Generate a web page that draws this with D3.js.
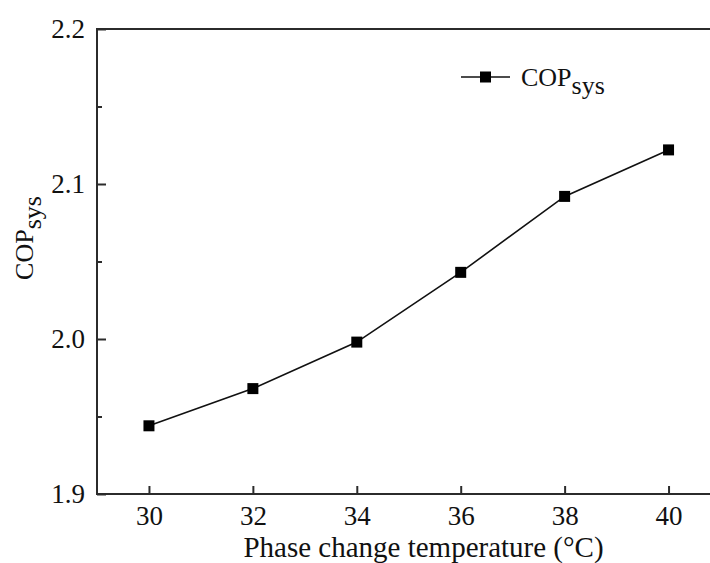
<!DOCTYPE html>
<html>
<head>
<meta charset="utf-8">
<script src="https://cdn.jsdelivr.net/npm/d3@7"></script>
<style>
  html, body { margin: 0; padding: 0; background: #fff; }
  svg { display: block; }
</style>
</head>
<body>
<svg id="chart" width="710" height="563" font-family="Liberation Serif"></svg>
<script>
const temps = [30, 32, 34, 36, 38, 40];
const copSys = [1.944, 1.968, 1.998, 2.043, 2.092, 2.122];
const xTicks = [30, 32, 34, 36, 38, 40];
const yTicks = [1.9, 2.0, 2.1, 2.2];
const yMinorTicks = [1.95, 2.05, 2.15];
const xTitle = "Phase change temperature (°C)";
const seriesName = "COP";
const seriesSub = "sys";

(function () {
const FONT = "Liberation Serif";
const svg = d3.select("#chart");
const mLeft = 97, mRight = 720.5, mTop = 29, mBottom = 494;
const x = d3.scaleLinear().domain([29, 41]).range([mLeft, mRight]);
const y = d3.scaleLinear().domain([1.9, 2.2]).range([mBottom, mTop]);
const axisColor = "#2b2b2b";

// frame (left, bottom, top)
const frame = svg.append("g");
frame.append("line").attr("x1", mLeft).attr("x2", mLeft).attr("y1", mTop).attr("y2", mBottom)
  .attr("stroke", axisColor).attr("stroke-width", 2);
frame.append("line").attr("x1", mLeft - 1).attr("x2", mRight).attr("y1", mBottom).attr("y2", mBottom)
  .attr("stroke", axisColor).attr("stroke-width", 2);
frame.append("line").attr("x1", mLeft - 1).attr("x2", mRight).attr("y1", mTop).attr("y2", mTop)
  .attr("stroke", axisColor).attr("stroke-width", 2);

// x axis (inward ticks)
const xAxis = d3.axisBottom(x).tickValues(xTicks).tickSizeInner(-8).tickSizeOuter(0).tickPadding(12).tickFormat(d3.format("d"));
const gx = svg.append("g").attr("transform", `translate(0,${mBottom})`).call(xAxis)
  .attr("font-family", FONT).attr("font-size", 27);
gx.select(".domain").remove();
gx.selectAll(".tick line").attr("stroke", axisColor).attr("stroke-width", 2);
gx.selectAll(".tick text").style("font-family", FONT).attr("fill", "#111");

// y axis (inward ticks)
const yAxis = d3.axisLeft(y).tickValues(yTicks).tickSizeInner(-9).tickSizeOuter(0).tickPadding(12).tickFormat(d3.format(".1f"));
const gy = svg.append("g").attr("transform", `translate(${mLeft},0)`).call(yAxis)
  .attr("font-family", FONT).attr("font-size", 27);
gy.select(".domain").remove();
gy.selectAll(".tick line").attr("stroke", axisColor).attr("stroke-width", 2);
gy.selectAll(".tick text").style("font-family", FONT).attr("fill", "#111");

const yMinor = d3.axisLeft(y).tickValues(yMinorTicks).tickSizeInner(-5).tickSizeOuter(0).tickFormat("");
const gym = svg.append("g").attr("transform", `translate(${mLeft},0)`).call(yMinor);
gym.select(".domain").remove();
gym.selectAll(".tick line").attr("stroke", axisColor).attr("stroke-width", 2);

// line
const data = temps.map((t, i) => ({ t, v: copSys[i] }));
svg.append("path").datum(data)
  .attr("fill", "none").attr("stroke", "#111").attr("stroke-width", 1.6)
  .attr("d", d3.line().x(d => x(d.t)).y(d => y(d.v)));
const ms = 11;
svg.selectAll("rect.pt").data(data).join("rect").attr("class", "pt")
  .attr("x", d => x(d.t) - ms / 2).attr("y", d => y(d.v) - ms / 2)
  .attr("width", ms).attr("height", ms).attr("fill", "#000");

// x title
svg.append("text").attr("x", 423.5).attr("y", 557).attr("text-anchor", "middle")
  .style("font-family", FONT).attr("font-size", 29).attr("fill", "#111").text(xTitle);

// y title
const yt = svg.append("text").attr("transform", "translate(33,238) rotate(-90)")
  .attr("text-anchor", "middle").style("font-family", FONT).attr("font-size", 26).attr("fill", "#111");
yt.append("tspan").text(seriesName);
yt.append("tspan").attr("dy", 8).text(seriesSub);

// legend
const lg = svg.append("g");
lg.append("line").attr("x1", 461).attr("x2", 510).attr("y1", 77).attr("y2", 77)
  .attr("stroke", "#111").attr("stroke-width", 1.6);
lg.append("rect").attr("x", 485.5 - ms / 2).attr("y", 77 - ms / 2).attr("width", ms).attr("height", ms).attr("fill", "#000");
const lt = lg.append("text").attr("x", 521).attr("y", 86).style("font-family", FONT).attr("font-size", 26).attr("fill", "#111");
lt.append("tspan").text(seriesName);
lt.append("tspan").attr("dy", 8).text(seriesSub);
})();
</script>
</body>
</html>
